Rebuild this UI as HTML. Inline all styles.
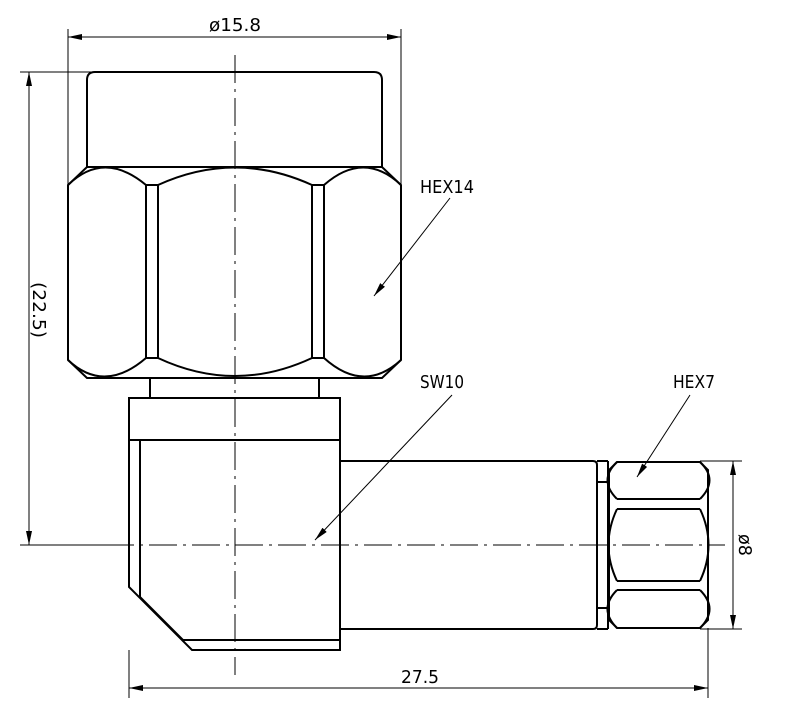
<!DOCTYPE html>
<html><head><meta charset="utf-8"><style>html,body{margin:0;padding:0;background:#fff}svg{display:block}</style></head>
<body>
<svg width="788" height="716" viewBox="0 0 788 716" xmlns="http://www.w3.org/2000/svg" font-family="'DejaVu Sans', 'Liberation Sans', sans-serif">
<defs>
<marker id="a" viewBox="0 0 14 6" refX="14" refY="3" markerWidth="14" markerHeight="6" orient="auto-start-reverse" markerUnits="userSpaceOnUse"><path d="M0,0 L14,3 L0,6 z" fill="#000"/></marker>
</defs>
<g fill="none" stroke="#000">
<line x1="235" y1="55" x2="235" y2="675" stroke-width="1" stroke-dasharray="28,6,3,6"/>
<line x1="20" y1="545" x2="725" y2="545" stroke-width="1" stroke-dasharray="28,6,3,6"/>
<g stroke-width="2">
<path d="M87,167 V80 Q87,72 95,72 H374 Q382,72 382,80 V167"/>
<path d="M87,167 H382 L401,185 V360 L382,378 H87 L68,360 V185 Z"/>
<line x1="146" y1="185" x2="146" y2="358"/>
<line x1="158" y1="185" x2="158" y2="358"/>
<line x1="312" y1="185" x2="312" y2="358"/>
<line x1="324" y1="185" x2="324" y2="358"/>
<line x1="146" y1="185" x2="158" y2="185"/><line x1="146" y1="358" x2="158" y2="358"/>
<line x1="312" y1="185" x2="324" y2="185"/><line x1="312" y1="358" x2="324" y2="358"/>
<path d="M158,185 Q235,150 312,185"/><path d="M158,358 Q235,394 312,358"/>
<path d="M68,185 Q104,150 146,185"/><path d="M68,360 Q104,394 146,358"/>
<path d="M324,185 Q364,150 401,185"/><path d="M324,358 Q364,394 401,360"/>
<line x1="150" y1="378" x2="150" y2="398"/><line x1="319" y1="378" x2="319" y2="398"/>
<rect x="129" y="398" width="211" height="42"/>
<path d="M129,440 V587 L192,650 H340 V440"/>
<path d="M140,440 V597 L183,640 H340"/>
<path d="M340,461 H593 Q597,461 597,465 V625 Q597,629 593,629 H340"/>
<line x1="597" y1="461" x2="608" y2="461"/><line x1="597" y1="629" x2="608" y2="629"/>
<line x1="608" y1="461" x2="608" y2="629"/>
<line x1="597" y1="482" x2="608" y2="482"/><line x1="597" y1="608" x2="608" y2="608"/>
<path d="M617,462 H700 L708,470 V620 L700,628 H617 L609,620 V470 Z"/>
<line x1="617" y1="499" x2="700" y2="499"/><line x1="617" y1="509" x2="700" y2="509"/>
<line x1="617" y1="581" x2="700" y2="581"/><line x1="617" y1="590" x2="700" y2="590"/>
<path d="M617,462 Q598,480 617,499"/><path d="M700,462 Q719,480 700,499"/>
<path d="M617,590 Q598,609 617,628"/><path d="M700,590 Q719,609 700,628"/>
<path d="M617,509 Q600,545 617,581"/><path d="M700,509 Q717,545 700,581"/>
</g>
<g stroke-width="1">
<line x1="68" y1="29" x2="68" y2="185"/><line x1="401" y1="29" x2="401" y2="185"/>
<line x1="68" y1="37" x2="401" y2="37" marker-start="url(#a)" marker-end="url(#a)"/>
<line x1="20" y1="72" x2="95" y2="72"/>
<line x1="20" y1="545" x2="110" y2="545"/>
<line x1="29" y1="72" x2="29" y2="545" marker-start="url(#a)" marker-end="url(#a)"/>
<line x1="129" y1="650" x2="129" y2="698"/><line x1="708" y1="628" x2="708" y2="698"/>
<line x1="129" y1="688" x2="708" y2="688" marker-start="url(#a)" marker-end="url(#a)"/>
<line x1="700" y1="461" x2="742" y2="461"/><line x1="700" y1="629" x2="742" y2="629"/>
<line x1="733" y1="461" x2="733" y2="629" marker-start="url(#a)" marker-end="url(#a)"/>
<line x1="450" y1="198" x2="374" y2="296" marker-end="url(#a)"/>
<line x1="452" y1="395" x2="315" y2="540" marker-end="url(#a)"/>
<line x1="690" y1="395" x2="637" y2="477" marker-end="url(#a)"/>
</g>
</g>
<g font-size="18" fill="#000">
<text x="235" y="31" text-anchor="middle" textLength="52" lengthAdjust="spacingAndGlyphs">ø15.8</text>
<text x="420" y="683" text-anchor="middle" textLength="38" lengthAdjust="spacingAndGlyphs">27.5</text>
<text x="420" y="193" textLength="54" lengthAdjust="spacingAndGlyphs">HEX14</text>
<text x="420" y="388" textLength="44" lengthAdjust="spacingAndGlyphs">SW10</text>
<text x="673" y="388" textLength="42" lengthAdjust="spacingAndGlyphs">HEX7</text>
<text transform="translate(33,310) rotate(90)" text-anchor="middle" textLength="56" lengthAdjust="spacingAndGlyphs">(22.5)</text>
<text transform="translate(739,545) rotate(90)" text-anchor="middle" textLength="22" lengthAdjust="spacingAndGlyphs">ø8</text>
</g>
</svg>
</body></html>
